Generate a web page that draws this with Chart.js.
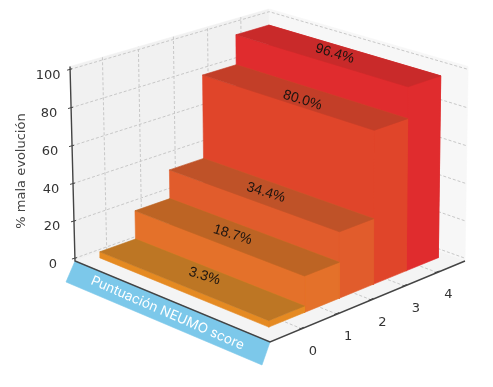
<!DOCTYPE html>
<html>
<head>
<meta charset="utf-8">
<style>
  html, body { margin: 0; padding: 0; background: #fff; }
  canvas { display: block; filter: blur(0.4px); }
</style>
<script src="https://cdn.jsdelivr.net/npm/chart.js@4"></script>
</head>
<body>
<canvas id="chart" width="493" height="387"></canvas>
<script>
// chart values
const scores = [0, 1, 2, 3, 4];
const pctMalaEvolucion = [3.3, 18.7, 34.4, 80.0, 96.4];
const barLabels = ['3.3%', '18.7%', '34.4%', '80.0%', '96.4%'];
const zTicks = [0, 20, 40, 60, 80, 100];
const zTitle = '% mala evolución';
const bandTitle = 'Puntuación NEUMO score';

// bar colours, one per score
const sideColors = ['#e58a22', '#e4712a', '#e15c2c', '#e0452a', '#e02c2e'];
const topColors = ['#bd7624', '#bd6424', '#bf5228', '#c33e28', '#c92a2a'];

// nudges for the labels on top of the bars
const labelNudge = [[5, -2], [-2, -1], [-3, -1], [0, 4], [-1, -1]];

// axis limits of the 3d box
const xMin = -0.88, xMax = 4.87;
const zMin = -1.5, zMax = 101.5;
const depthMin = 0.072, depthMax = 0.938;

// box corners on the page and perspective weights
const F = [270, 342], R = [465, 261], L = [75, 261], T = [269, 133.4];
const wA = 1.08, wB = 1.08, wC = 0.978;

function project(x, y, z) {
    const u = (x - xMin) / (xMax - xMin);
    const h = (z - zMin) / (zMax - zMin);
    const w = 1 + u * (wA - 1) + y * (wB - 1) + h * (wC - 1);
    const px = F[0] + u * (wA * R[0] - F[0]) + y * (wB * L[0] - F[0]) + h * (wC * T[0] - F[0]);
    const py = F[1] + u * (wA * R[1] - F[1]) + y * (wB * L[1] - F[1]) + h * (wC * T[1] - F[1]);
    return { x: px / w, y: py / w };
}

const sets = [];

function addPoly(points, color) {
    sets.push({
        data: points.concat([points[0]]),
        fill: 'shape',
        backgroundColor: color,
        borderColor: color,
        borderWidth: 0.6,
        pointRadius: 0,
        tension: 0,
        clip: false
    });
}

function addLine(points, color, width, dash) {
    sets.push({
        data: points,
        fill: false,
        borderColor: color,
        borderWidth: width,
        borderDash: dash || [],
        pointRadius: 0,
        tension: 0,
        clip: false
    });
}

// walls and floor
addPoly([project(xMin, 1, zMin), project(xMax, 1, zMin), project(xMax, 1, zMax), project(xMin, 1, zMax)], '#f1f1f1');
addPoly([project(xMax, 0, zMin), project(xMax, 1, zMin), project(xMax, 1, zMax), project(xMax, 0, zMax)], '#f7f7f7');
addPoly([project(xMin, 0, zMin), project(xMax, 0, zMin), project(xMax, 1, zMin), project(xMin, 1, zMin)], '#f4f4f4');

// grid
const gridColor = '#c8c8c8', gridDash = [3, 2];
zTicks.forEach(z => {
    addLine([project(xMin, 1, z), project(xMax, 1, z), project(xMax, 0, z)], gridColor, 1, gridDash);
});
scores.forEach(x => {
    addLine([project(x, 0, zMin), project(x, 1, zMin), project(x, 1, zMax)], gridColor, 1, gridDash);
});

// blue band under the left floor edge
const bandA = project(xMin, 1, zMin), bandB = project(xMin, 0, zMin);
addPoly([bandA, bandB, { x: bandB.x - 8, y: bandB.y + 23 }, { x: bandA.x - 9, y: bandA.y + 21 }], '#7cc8ea');

// axes and tick marks
const axisColor = '#444444';
addLine([project(xMin, 1, zMax), project(xMin, 1, zMin), project(xMin, 0, zMin), project(xMax, 0, zMin)], axisColor, 1.4);
zTicks.forEach(z => {
    const p = project(xMin, 1, z);
    addLine([{ x: p.x - 3, y: p.y + 0.8 }, { x: p.x + 2, y: p.y - 0.6 }], axisColor, 1);
});
scores.forEach(x => {
    const p = project(x, 0, zMin);
    addLine([{ x: p.x - 3, y: p.y + 0.5 }, { x: p.x + 2, y: p.y - 1.5 }], axisColor, 1);
});

// bars, back to front
for (let i = scores.length - 1; i >= 0; i--) {
    const x0 = scores[i] - 0.5, x1 = scores[i] + 0.5, v = pctMalaEvolucion[i];
    addPoly([project(x1, depthMin, 0), project(x1, depthMax, 0), project(x1, depthMax, v), project(x1, depthMin, v)], sideColors[i]);
    addPoly([project(x0, depthMin, 0), project(x1, depthMin, 0), project(x1, depthMin, v), project(x0, depthMin, v)], sideColors[i]);
    addPoly([project(x0, depthMin, 0), project(x0, depthMax, 0), project(x0, depthMax, v), project(x0, depthMin, v)], sideColors[i]);
    addPoly([project(x0, depthMin, v), project(x1, depthMin, v), project(x1, depthMax, v), project(x0, depthMax, v)], topColors[i]);
}

const textPlugin = {
    id: 'boxText',
    afterDatasetsDraw(chart) {
        const ctx = chart.ctx;
        const sx = chart.scales.x, sy = chart.scales.y;
        const put = (text, p, dx, dy, font, color, angle) => {
            ctx.save();
            ctx.translate(sx.getPixelForValue(p.x) + dx, sy.getPixelForValue(p.y) + dy);
            ctx.rotate(angle || 0);
            ctx.font = font;
            ctx.fillStyle = color;
            ctx.textAlign = 'center';
            ctx.textBaseline = 'middle';
            ctx.fillText(text, 0, 0);
            ctx.restore();
        };
        const tickFont = '13px "DejaVu Sans"', tickColor = '#333333';
        zTicks.forEach(z => put(String(z), project(xMin, 1, z), -22, 6, tickFont, tickColor));
        scores.forEach(x => put(String(x), project(x, 0, zMin), 11, 22.5, tickFont, tickColor));
        put(zTitle, { x: 22, y: 171 }, 0, 0, '13px "DejaVu Sans"', '#444444', -Math.PI / 2);
        const mid = { x: (bandA.x + bandB.x) / 2, y: (bandA.y + bandB.y) / 2 };
        put(bandTitle, mid, -5, 11.5, '13.5px Inter', '#ffffff', 23.5 * Math.PI / 180);
        scores.forEach((x, i) => {
            const c = project(x, (depthMin + depthMax) / 2, pctMalaEvolucion[i]);
            put(barLabels[i], c, labelNudge[i][0], labelNudge[i][1], '14px "Liberation Sans"', '#1c1410', 17 * Math.PI / 180);
        });
    }
};

new Chart(document.getElementById('chart'), {
    type: 'line',
    data: { datasets: sets.slice().reverse() },
    options: {
        responsive: false,
        animation: false,
        layout: { padding: 0 },
        plugins: { legend: { display: false }, tooltip: { enabled: false } },
        scales: {
            x: { type: 'linear', display: false, min: 0, max: 493 },
            y: { type: 'linear', display: false, min: 0, max: 387, reverse: true }
        }
    },
    plugins: [textPlugin]
});
</script>
</body>
</html>
